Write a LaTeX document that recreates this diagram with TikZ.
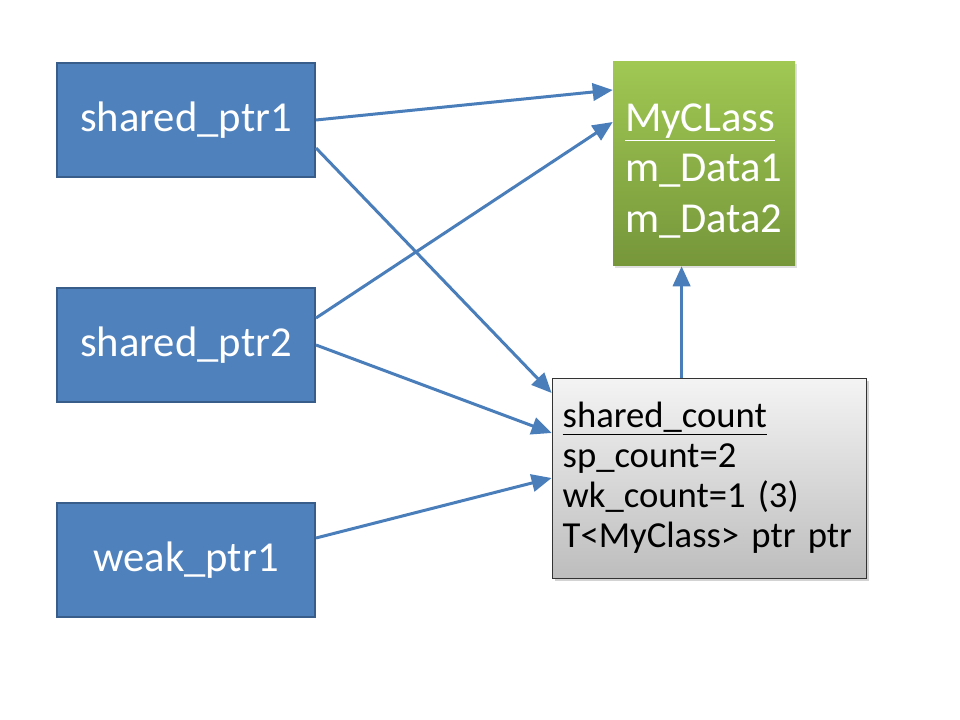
\documentclass[tikz,border=0pt]{standalone}
\usepackage{fontspec}
\setmainfont{Carlito}
\usetikzlibrary{arrows.meta,calc,shadows}
\definecolor{ptrfill}{HTML}{4F81BD}
\definecolor{ptrdraw}{HTML}{385D8A}
\definecolor{arrowc}{HTML}{4A7EBB}
\definecolor{gtop}{HTML}{A0C853}
\definecolor{gbot}{HTML}{76963A}
\definecolor{stop}{HTML}{F4F4F4}
\definecolor{sbot}{HTML}{BDBDBD}
\tikzset{
  ptrbox/.style={draw=ptrdraw, line width=1.5pt, fill=ptrfill, text=white,
    minimum width=193.5pt, minimum height=85.5pt, inner sep=0pt,
    font=\fontsize{32}{38}\selectfont},
  classbox/.style={top color=gtop, bottom color=gbot, text=white,
    minimum width=136.5pt, minimum height=153pt, inner xsep=9pt, inner ysep=0pt,
    text width=118.5pt, align=left, font=\fontsize{32}{38}\selectfont,
    drop shadow={opacity=0.25, shadow xshift=1.5pt, shadow yshift=-1.5pt}},
  countbox/.style={draw=black!80, line width=0.6pt, top color=stop, bottom color=sbot,
    minimum width=235.5pt, minimum height=150pt, inner xsep=8pt, inner ysep=0pt,
    text width=219.5pt, align=left, font=\fontsize{27.5}{30}\selectfont,
    drop shadow={opacity=0.35, shadow xshift=2pt, shadow yshift=-2pt}},
  link/.style={draw=arrowc, line width=2.25pt, -{Triangle[length=15pt,width=13pt]}}
}
\begin{document}
\begin{tikzpicture}[x=0.75pt,y=-0.75pt]
\useasboundingbox (0,0) rectangle (960,720);
\node[ptrbox] (sp1) at (186,120) {shared\_ptr1};
\node[ptrbox] (sp2) at (186,345) {shared\_ptr2};
\node[ptrbox] (wp1) at (186,560) {weak\_ptr1};
\node[classbox] (my) at (704,164) {\rule{0pt}{31pt}\underline{MyCLass}\\m\_Data1\\m\_Data2};
\node[countbox] (sc) at (709,478) {\underline{shared\_count}\\sp\_count=2\\wk\_count=1 (3)\\T<MyClass> ptr ptr};
\coordinate (sctop) at ($(sc.north west)+(130,0)$);
\draw[link] (sp1.east) -- ($(my.west)+(0,-74)$);
\draw[link] ($(sp1.east)+(0,28)$) -- ($(sc.west)+(0,-85)$);
\draw[link] ($(sp2.east)+(0,-27)$) -- ($(my.west)+(0,-42)$);
\draw[link] (sp2.east) -- ($(sc.west)+(0,-45)$);
\draw[link] ($(wp1.east)+(0,-22)$) -- (sc.west);
\draw[link] (sctop) -- (sctop |- my.south);
\end{tikzpicture}
\end{document}
